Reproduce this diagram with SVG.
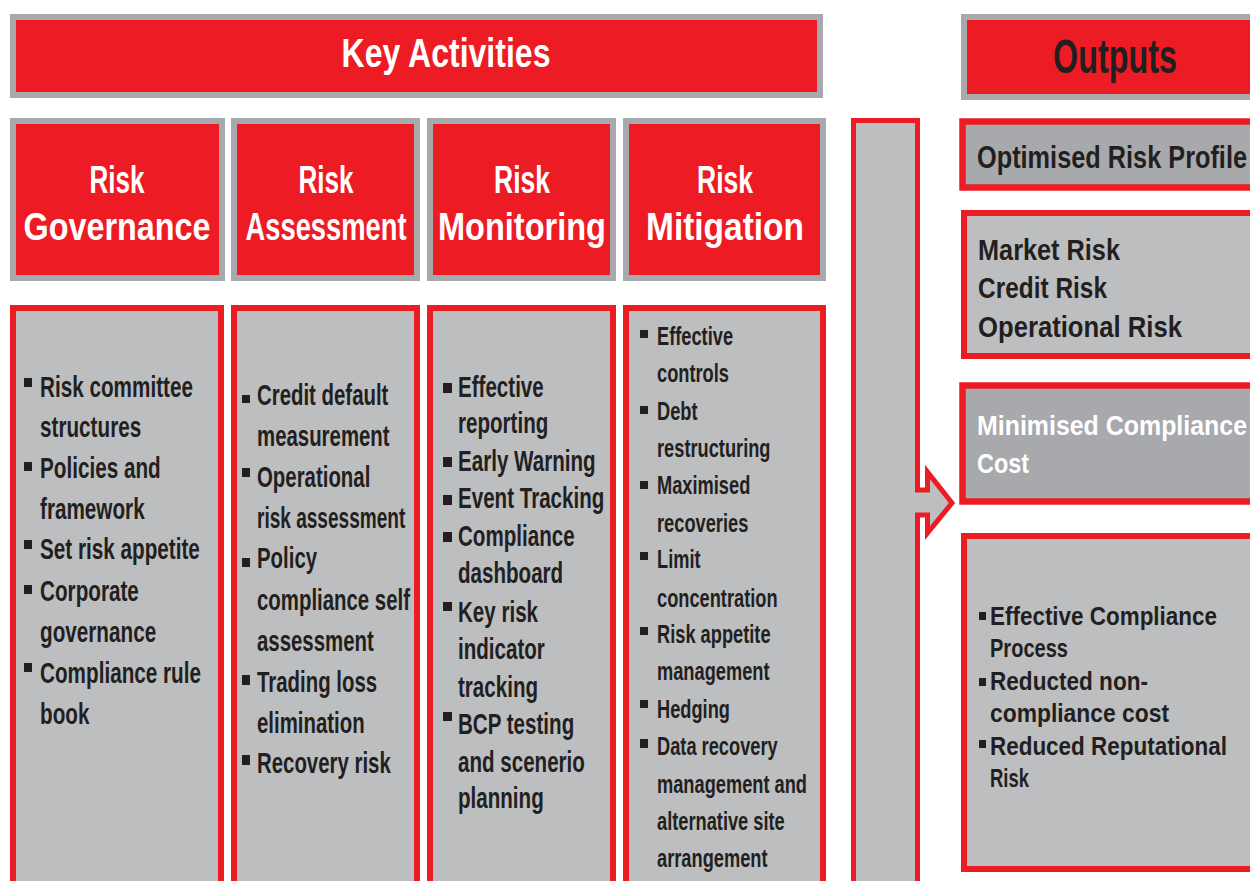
<svg xmlns="http://www.w3.org/2000/svg" width="1250" height="881" viewBox="0 0 1250 881">
  <style>
    .hdr { fill: #ed1c24; stroke: #a7a9ac; stroke-width: 6; }
    .body { fill: #bcbec0; stroke: #ed1c24; stroke-width: 6; }
    .dark { fill: #a7a9ac; stroke: #ed1c24; stroke-width: 6.5; }
    .t { font-family: "Liberation Sans", Arial, sans-serif; font-weight: bold; }
    .w { fill: #ffffff; }
    .k { fill: #231f20; }
    .blt { fill: #231f20; }
  </style>

  <rect x="0" y="0" width="1250" height="881" fill="#ffffff"/>

  <!-- Key Activities banner -->
  <g id="key-activities">
    <rect class="hdr" x="13" y="17" width="807" height="78"/>
    <text class="t w" x="446" y="67" font-size="40" text-anchor="middle" textLength="209" lengthAdjust="spacingAndGlyphs">Key Activities</text>
  </g>

  <!-- Outputs banner -->
  <g id="outputs">
    <rect class="hdr" x="964" y="17" width="300" height="80"/>
    <text class="t k" x="1115" y="73" font-size="48" text-anchor="middle" textLength="124" lengthAdjust="spacingAndGlyphs">Outputs</text>
  </g>

  <!-- Column headers -->
  <g id="hdr-governance">
    <rect class="hdr" x="13" y="121" width="209" height="157"/>
    <text class="t w" x="117" y="193" font-size="38" text-anchor="middle" textLength="55" lengthAdjust="spacingAndGlyphs">Risk</text>
    <text class="t w" x="117" y="240" font-size="38" text-anchor="middle" textLength="187" lengthAdjust="spacingAndGlyphs">Governance</text>
  </g>
  <g id="hdr-assessment">
    <rect class="hdr" x="234" y="121" width="183" height="157"/>
    <text class="t w" x="326" y="193" font-size="38" text-anchor="middle" textLength="55" lengthAdjust="spacingAndGlyphs">Risk</text>
    <text class="t w" x="326" y="240" font-size="38" text-anchor="middle" textLength="161" lengthAdjust="spacingAndGlyphs">Assessment</text>
  </g>
  <g id="hdr-monitoring">
    <rect class="hdr" x="430" y="121" width="183" height="157"/>
    <text class="t w" x="522" y="193" font-size="38" text-anchor="middle" textLength="56" lengthAdjust="spacingAndGlyphs">Risk</text>
    <text class="t w" x="522" y="240" font-size="38" text-anchor="middle" textLength="168" lengthAdjust="spacingAndGlyphs">Monitoring</text>
  </g>
  <g id="hdr-mitigation">
    <rect class="hdr" x="626" y="121" width="197" height="157"/>
    <text class="t w" x="725" y="193" font-size="38" text-anchor="middle" textLength="56" lengthAdjust="spacingAndGlyphs">Risk</text>
    <text class="t w" x="725" y="240" font-size="38" text-anchor="middle" textLength="158" lengthAdjust="spacingAndGlyphs">Mitigation</text>
  </g>

  <!-- Column bodies -->
  <g id="body-governance">
    <rect class="body" x="13" y="308" width="208" height="600"/>
    <rect class="blt" x="24" y="378" width="8" height="9"/>
    <rect class="blt" x="24" y="462" width="8" height="9"/>
    <rect class="blt" x="24" y="540" width="8" height="9"/>
    <rect class="blt" x="24" y="585" width="8" height="9"/>
    <rect class="blt" x="24" y="663" width="8" height="9"/>
    <text class="t k" font-size="30" transform="translate(40 0) scale(0.69 1)">
      <tspan x="0" y="397">Risk committee</tspan>
      <tspan x="0" y="437">structures</tspan>
      <tspan x="0" y="478">Policies and</tspan>
      <tspan x="0" y="519">framework</tspan>
      <tspan x="0" y="559">Set risk appetite</tspan>
      <tspan x="0" y="601">Corporate</tspan>
      <tspan x="0" y="642">governance</tspan>
      <tspan x="0" y="683">Compliance rule</tspan>
      <tspan x="0" y="724">book</tspan>
    </text>
  </g>

  <g id="body-assessment">
    <rect class="body" x="234" y="308" width="183" height="600"/>
    <rect class="blt" x="242" y="395" width="8" height="8"/>
    <rect class="blt" x="242" y="468" width="8" height="9"/>
    <rect class="blt" x="242" y="558" width="8" height="9"/>
    <rect class="blt" x="242" y="675" width="8" height="10"/>
    <rect class="blt" x="242" y="755" width="8" height="10"/>
    <text class="t k" font-size="30" transform="translate(257 0) scale(0.68 1)">
      <tspan x="0" y="405">Credit default</tspan>
      <tspan x="0" y="446">measurement</tspan>
      <tspan x="0" y="487">Operational</tspan>
      <tspan x="0" y="528" textLength="218" lengthAdjust="spacingAndGlyphs">risk assessment</tspan>
      <tspan x="0" y="568">Policy</tspan>
      <tspan x="0" y="610">compliance self</tspan>
      <tspan x="0" y="651">assessment</tspan>
      <tspan x="0" y="692">Trading loss</tspan>
      <tspan x="0" y="733">elimination</tspan>
      <tspan x="0" y="773">Recovery risk</tspan>
    </text>
  </g>

  <g id="body-monitoring">
    <rect class="body" x="430" y="308" width="183" height="600"/>
    <rect class="blt" x="443" y="383" width="9" height="10"/>
    <rect class="blt" x="443" y="457" width="9" height="10"/>
    <rect class="blt" x="443" y="495" width="9" height="10"/>
    <rect class="blt" x="443" y="532" width="9" height="10"/>
    <rect class="blt" x="443" y="602" width="9" height="9"/>
    <rect class="blt" x="443" y="712" width="9" height="9"/>
    <text class="t k" font-size="29" transform="translate(458 0) scale(0.71 1)">
      <tspan x="0" y="397">Effective</tspan>
      <tspan x="0" y="433">reporting</tspan>
      <tspan x="0" y="471">Early Warning</tspan>
      <tspan x="0" y="508">Event Tracking</tspan>
      <tspan x="0" y="546">Compliance</tspan>
      <tspan x="0" y="583">dashboard</tspan>
      <tspan x="0" y="622">Key risk</tspan>
      <tspan x="0" y="659">indicator</tspan>
      <tspan x="0" y="697">tracking</tspan>
      <tspan x="0" y="734">BCP testing</tspan>
      <tspan x="0" y="772">and scenerio</tspan>
      <tspan x="0" y="808">planning</tspan>
    </text>
  </g>

  <g id="body-mitigation">
    <rect class="body" x="626" y="308" width="197" height="600"/>
    <rect class="blt" x="640" y="330" width="8" height="8"/>
    <rect class="blt" x="640" y="406" width="8" height="8"/>
    <rect class="blt" x="640" y="481" width="8" height="8"/>
    <rect class="blt" x="640" y="552" width="8" height="8"/>
    <rect class="blt" x="640" y="627" width="8" height="8"/>
    <rect class="blt" x="640" y="700" width="8" height="8"/>
    <rect class="blt" x="640" y="739" width="8" height="9"/>
    <text class="t k" font-size="25" transform="translate(657 0) scale(0.73 1)">
      <tspan x="0" y="345">Effective</tspan>
      <tspan x="0" y="382">controls</tspan>
      <tspan x="0" y="420">Debt</tspan>
      <tspan x="0" y="457">restructuring</tspan>
      <tspan x="0" y="494">Maximised</tspan>
      <tspan x="0" y="532">recoveries</tspan>
      <tspan x="0" y="568">Limit</tspan>
      <tspan x="0" y="607">concentration</tspan>
      <tspan x="0" y="643">Risk appetite</tspan>
      <tspan x="0" y="680">management</tspan>
      <tspan x="0" y="718">Hedging</tspan>
      <tspan x="0" y="755">Data recovery</tspan>
      <tspan x="0" y="793">management and</tspan>
      <tspan x="0" y="830">alternative site</tspan>
      <tspan x="0" y="867">arrangement</tspan>
    </text>
  </g>

  <!-- Flow from activities to outputs -->
  <g id="connectors">
    <path d="M853.5,120.5 H917.5 V490 H927.5 V472 L952,503 L927.5,533 V515 H917.5 V900 H853.5 Z"
          fill="#bcbec0" stroke="#ed1c24" stroke-width="5" stroke-linejoin="miter"/>
  </g>

  <!-- Output boxes -->
  <g id="out-profile">
    <rect class="dark" x="962.5" y="121.5" width="300" height="66"/>
    <text class="t k" x="977" y="168" font-size="32" textLength="270" lengthAdjust="spacingAndGlyphs">Optimised Risk Profile</text>
  </g>

  <g id="out-risks">
    <rect class="body" x="964" y="213" width="300" height="143"/>
    <text class="t k" x="978" y="260" font-size="29" textLength="142" lengthAdjust="spacingAndGlyphs">Market Risk</text>
    <text class="t k" x="978" y="298" font-size="29" textLength="129" lengthAdjust="spacingAndGlyphs">Credit Risk</text>
    <text class="t k" x="978" y="337" font-size="29" textLength="204" lengthAdjust="spacingAndGlyphs">Operational Risk</text>
  </g>

  <g id="out-cost">
    <rect class="dark" x="962.5" y="385.5" width="300" height="116"/>
    <text class="t w" x="977" y="435" font-size="28" textLength="270" lengthAdjust="spacingAndGlyphs">Minimised Compliance</text>
    <text class="t w" x="977" y="473" font-size="28" textLength="52" lengthAdjust="spacingAndGlyphs">Cost</text>
  </g>

  <g id="out-benefits">
    <rect class="body" x="964" y="536" width="300" height="333"/>
    <rect class="blt" x="979" y="612" width="7" height="8"/>
    <rect class="blt" x="979" y="678" width="7" height="8"/>
    <rect class="blt" x="979" y="740" width="7" height="8"/>
    <text class="t k" x="990" y="625" font-size="25" textLength="227" lengthAdjust="spacingAndGlyphs">Effective Compliance</text>
    <text class="t k" x="990" y="657" font-size="25" textLength="78" lengthAdjust="spacingAndGlyphs">Process</text>
    <text class="t k" x="990" y="690" font-size="25" textLength="158" lengthAdjust="spacingAndGlyphs">Reducted non-</text>
    <text class="t k" x="990" y="722" font-size="25" textLength="179" lengthAdjust="spacingAndGlyphs">compliance cost</text>
    <text class="t k" x="990" y="755" font-size="25" textLength="237" lengthAdjust="spacingAndGlyphs">Reduced Reputational</text>
    <text class="t k" x="990" y="787" font-size="25" textLength="39" lengthAdjust="spacingAndGlyphs">Risk</text>
  </g>
</svg>
